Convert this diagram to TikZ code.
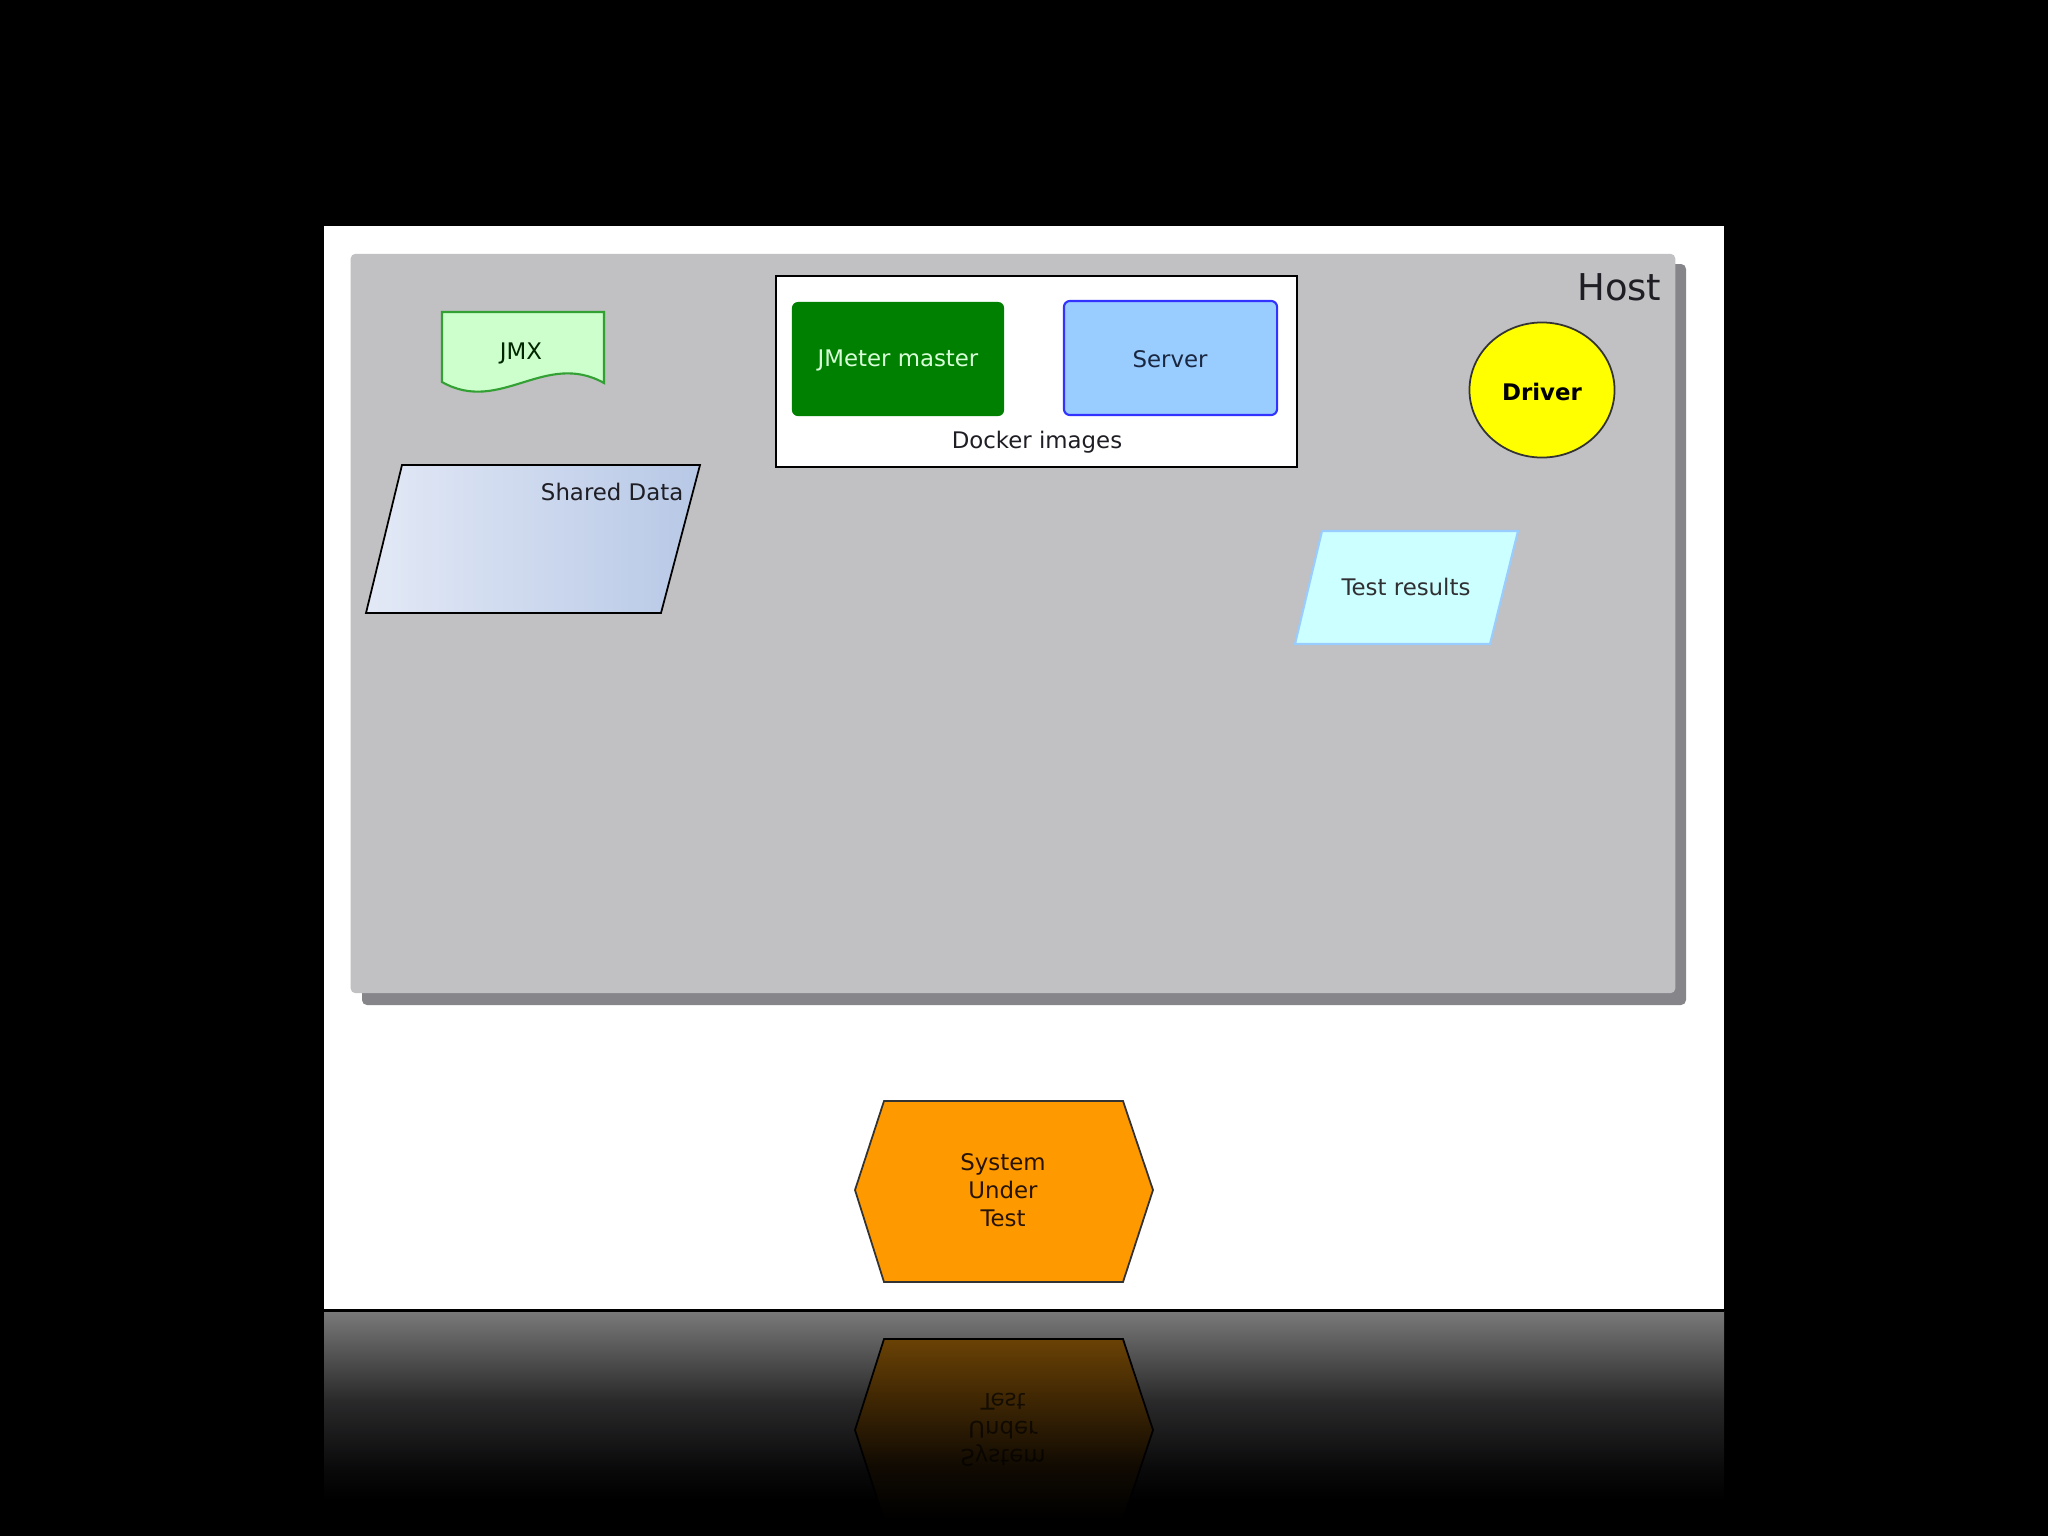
\documentclass[tikz,border=0pt]{standalone}
\usepackage{fontspec}
\setmainfont{DejaVu Sans}
\usetikzlibrary{shapes.geometric}
\definecolor{hostgray}{HTML}{C1C0C2}
\definecolor{hostshadow}{HTML}{868589}
\definecolor{jmxfill}{HTML}{CCFFCC}
\definecolor{jmxline}{HTML}{33A033}
\definecolor{jmgreen}{HTML}{008000}
\definecolor{jmtext}{HTML}{D8FFD8}
\definecolor{srvfill}{HTML}{99CCFF}
\definecolor{srvline}{HTML}{3333FF}
\definecolor{srvtext}{HTML}{1A2740}
\definecolor{drvfill}{HTML}{FFFF00}
\definecolor{trfill}{HTML}{CCFFFF}
\definecolor{trline}{HTML}{99CCFF}
\definecolor{sdleft}{HTML}{E3E9F6}
\definecolor{sdright}{HTML}{B7C8E6}
\definecolor{sutfill}{HTML}{FF9900}
\definecolor{darktext}{HTML}{1E1E24}
\pgfdeclareverticalshading{reflbg}{100bp}{rgb(0bp)=(0,0,0); rgb(33bp)=(0,0,0); rgb(40.3bp)=(0.04,0.04,0.045); rgb(55.2bp)=(0.165,0.165,0.17); rgb(68.6bp)=(0.376,0.376,0.376); rgb(75bp)=(0.478,0.478,0.478); rgb(100bp)=(0.478,0.478,0.478)}
\pgfdeclareverticalshading{reflhex}{100bp}{rgb(0bp)=(0,0,0); rgb(25bp)=(0,0,0); rgb(39.6bp)=(0.063,0.039,0.008); rgb(58bp)=(0.243,0.149,0.012); rgb(75bp)=(0.416,0.259,0.02); rgb(100bp)=(0.416,0.259,0.02)}
\begin{document}
\begin{tikzpicture}[x=0.01cm,y=-0.01cm,
  lbl/.style={font=\fontsize{6.5}{8}\selectfont, inner sep=0pt, text=darktext},
  box/.style={inner sep=0pt, outer sep=0pt}]
\useasboundingbox (0,0) rectangle (2048,1536);
\fill[black] (0,0) rectangle (2048,1536);
% slide
\fill[white] (324,226) rectangle (1724,1310);
\shade[shading=reflbg] (324,1311) rectangle (1724,1536);
\draw[line width=0.6pt, black] (324,1310.5) -- (1724,1310.5);
% host
\fill[hostshadow, rounded corners=1.4pt] (362,264) rectangle (1686,1005);
\node[box, fill=hostgray, rounded corners=1.4pt, minimum width=13.24cm, minimum height=7.39cm] (host) at (1013,623.5) {};
\node[lbl, anchor=east, font=\fontsize{10.5}{12}\selectfont] (hostlbl) at (1662,287) {Host};
% docker images
\node[box, draw=black, fill=white, line width=0.6pt, minimum width=5.21cm, minimum height=1.91cm] (docker) at (1036.5,371.5) {};
\node[box, fill=jmgreen, rounded corners=1.7pt, minimum width=2.12cm, minimum height=1.14cm] (jmeter) at (898,359) {};
\node[lbl, text=jmtext] (jmeterlbl) at (898,360) {JMeter master};
\node[box, draw=srvline, fill=srvfill, line width=0.6pt, rounded corners=1.7pt, minimum width=2.13cm, minimum height=1.14cm] (server) at (1170.5,358) {};
\node[lbl, text=srvtext] (serverlbl) at (1170,359.5) {Server};
\node[lbl] (dockerlbl) at (1037,442) {Docker images};
% JMX document
\draw[jmxline, fill=jmxfill, line width=0.6pt] (442,312) -- (604,312) -- (604,383) .. controls (545,350) and (500,415) .. (442,382) -- cycle;
\node[lbl, text=black!85!green] (jmx) at (521,353.5) {JMX};
% shared data
\draw[black, line width=0.5pt, left color=sdleft, right color=sdright] (402,465) -- (700,465) -- (661,613) -- (366,613) -- cycle;
\node[lbl, anchor=east] (shared) at (684,491.5) {Shared Data};
% driver
\node[ellipse, draw=black!80, fill=drvfill, line width=0.5pt, minimum width=1.45cm, minimum height=1.35cm, inner sep=0pt] (driver) at (1542,390) {};
\node[lbl, text=black, font=\fontsize{6.5}{8}\selectfont\bfseries] (driverlbl) at (1542,392) {Driver};
% test results
\draw[trline, fill=trfill, line width=0.6pt] (1322,531) -- (1518,531) -- (1490,644) -- (1295,644) -- cycle;
\node[lbl, text=black!80!cyan!40!black] (results) at (1406,587) {Test results};
% system under test
\draw[black!80, fill=sutfill, line width=0.5pt] (884,1101) -- (1123,1101) -- (1153,1190) -- (1123,1282) -- (884,1282) -- (855,1190) -- cycle;
\node[lbl, align=center, text=black!85!orange] (sut) at (1003,1190) {System\\Under\\Test};
% reflection
\shade[shading=reflhex] (884,1339) -- (1123,1339) -- (1153,1430) -- (1123,1520) -- (884,1520) -- (855,1430) -- cycle;
\draw[black, line width=0.5pt] (884,1339) -- (1123,1339) -- (1153,1430) -- (1123,1520) -- (884,1520) -- (855,1430) -- cycle;
\node[lbl, align=center, text=black, opacity=0.65, yscale=-1, transform shape] (sutrefl) at (1003,1430) {System\\Under\\Test};
\end{tikzpicture}
\end{document}
